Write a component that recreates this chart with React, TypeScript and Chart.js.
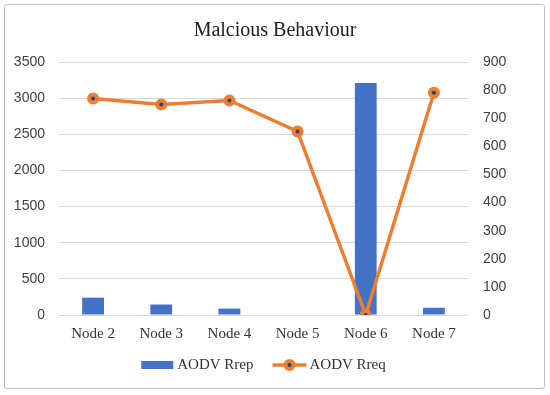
import React, { useEffect, useRef } from "react";
import { Chart, registerables } from "chart.js";

Chart.register(...registerables);

const categories = ["Node 2", "Node 3", "Node 4", "Node 5", "Node 6", "Node 7"];
const rrepValues = [240, 145, 88, 0, 3210, 100];
const rreqValues = [770, 749, 763, 653, 0, 791];
const leftTicks = [0, 500, 1000, 1500, 2000, 2500, 3000, 3500];
const rightTicks = [0, 100, 200, 300, 400, 500, 600, 700, 800, 900];
const seriesNames = ["AODV Rrep", "AODV Rreq"];
const titleText = "Malcious Behaviour";

const BLUE = "#4472C4";
const ORANGE = "#ED7D31";
const DOT = "#264478";
const SERIF = "'Liberation Serif', 'Times New Roman', serif";

const legendPlugin = {
  id: "excelLegend",
  afterDraw(chart: any) {
    const ctx = chart.ctx as CanvasRenderingContext2D;
    const ca = chart.chartArea;
    ctx.save();
    ctx.font = `15px ${SERIF}`;
    ctx.textBaseline = "middle";
    ctx.textAlign = "left";
    const w1 = ctx.measureText(seriesNames[0]).width;
    const w2 = ctx.measureText(seriesNames[1]).width;
    const total = 32 + 4 + w1 + 19 + 34 + 3 + w2;
    let x = (ca.left + ca.right) / 2 - total / 2;
    const y = 365;
    // bar item
    ctx.fillStyle = BLUE;
    ctx.fillRect(x, y - 4, 32, 8);
    x += 36;
    ctx.fillStyle = "#333";
    ctx.fillText(seriesNames[0], x, y);
    x += w1 + 19;
    // line item
    ctx.strokeStyle = ORANGE;
    ctx.lineWidth = 3.5;
    ctx.beginPath();
    ctx.moveTo(x, y);
    ctx.lineTo(x + 34, y);
    ctx.stroke();
    ctx.beginPath();
    ctx.arc(x + 17, y, 4, 0, Math.PI * 2);
    ctx.fillStyle = DOT;
    ctx.fill();
    ctx.lineWidth = 4;
    ctx.stroke();
    x += 37;
    ctx.fillStyle = "#333";
    ctx.fillText(seriesNames[1], x, y);
    ctx.restore();
  },
};

export default function App() {
  const ref = useRef<HTMLCanvasElement | null>(null);

  useEffect(() => {
    if (!ref.current) return;
    const chart = new Chart(ref.current, {
      data: {
        labels: categories,
        datasets: [
          {
            type: "bar",
            label: seriesNames[0],
            data: rrepValues,
            backgroundColor: BLUE,
            yAxisID: "y",
            order: 1,
            categoryPercentage: 1,
            barPercentage: 0.32,
          },
          {
            type: "line",
            label: seriesNames[1],
            data: rreqValues,
            borderColor: ORANGE,
            borderWidth: 3.5,
            tension: 0,
            pointRadius: 4,
            pointBorderWidth: 4,
            pointBackgroundColor: DOT,
            pointBorderColor: ORANGE,
            yAxisID: "y1",
            order: 0,
          },
        ],
      } as any,
      options: {
        animation: false,
        responsive: false,
        maintainAspectRatio: false,
        layout: { padding: { left: 0, right: 0, top: 0, bottom: 42 } },
        plugins: {
          title: {
            display: true,
            text: titleText,
            color: "#222",
            font: { family: SERIF, size: 20, weight: "normal" },
            padding: { top: 19, bottom: 19 },
          },
          legend: { display: false },
          tooltip: { enabled: false },
        },
        scales: {
          x: {
            grid: { display: false, drawTicks: false },
            border: { display: false },
            ticks: {
              color: "#333",
              padding: 10,
              font: { family: SERIF, size: 15 },
            },
          },
          y: {
            position: "left",
            min: leftTicks[0],
            max: leftTicks[leftTicks.length - 1],
            afterBuildTicks: (s: any) => {
              s.ticks = leftTicks.map((v) => ({ value: v }));
            },
            afterFit: (s: any) => {
              s.width = 59;
            },
            grid: { color: "#D9D9D9", lineWidth: 1, drawTicks: false },
            border: { display: false },
            ticks: {
              color: "#404040",
              padding: 14,
              callback: (v: any) => String(v),
              font: { family: "'Liberation Sans', Arial, sans-serif", size: 14 },
            },
          },
          y1: {
            position: "right",
            min: rightTicks[0],
            max: rightTicks[rightTicks.length - 1],
            afterBuildTicks: (s: any) => {
              s.ticks = rightTicks.map((v) => ({ value: v }));
            },
            afterFit: (s: any) => {
              s.width = 82;
            },
            grid: { display: false, drawTicks: false },
            border: { display: false },
            ticks: {
              color: "#404040",
              padding: 15,
              callback: (v: any) => String(v),
              font: { family: "'Liberation Sans', Arial, sans-serif", size: 14 },
            },
          },
        },
      } as any,
      plugins: [legendPlugin],
    });
    return () => chart.destroy();
  }, []);

  return (
    <div style={{ position: "fixed", left: 0, top: 0, width: 550, height: 395, background: "#fff" }}>
      <canvas ref={ref} width={550} height={395} style={{ position: "absolute", left: 0, top: 0, width: 550, height: 395 }} />
      <div
        style={{
          position: "absolute",
          left: 4,
          top: 4,
          width: 539,
          height: 383,
          border: "1px solid #BFBFBF",
          borderRadius: 3,
          pointerEvents: "none",
        }}
      />
    </div>
  );
}
